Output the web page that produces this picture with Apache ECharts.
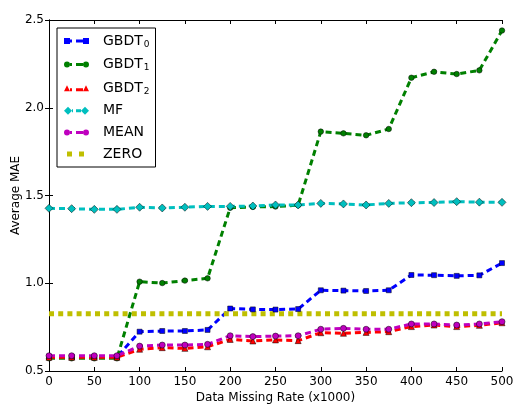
<!DOCTYPE html>
<html>
<head>
<meta charset="utf-8">
<script src="https://cdn.jsdelivr.net/npm/echarts@6/dist/echarts.min.js"></script>
<style>html,body{margin:0;padding:0;background:#fff;}#c{width:513px;height:406px;}</style>
</head>
<body>
<div id="c"></div>
<script>
const xValues = [0,25,50,75,100,125,150,175,200,225,250,275,300,325,350,375,400,425,450,475,500];
const gbdt0 = [0.580,0.580,0.580,0.580,0.724,0.728,0.728,0.734,0.856,0.851,0.850,0.853,0.960,0.958,0.956,0.960,1.047,1.046,1.042,1.045,1.115];
const gbdt1 = [0.572,0.572,0.572,0.572,1.009,1.001,1.015,1.028,1.430,1.435,1.437,1.445,1.864,1.854,1.843,1.879,2.171,2.205,2.192,2.213,2.440];
const gbdt2 = [0.578,0.578,0.578,0.578,0.624,0.633,0.629,0.638,0.680,0.671,0.677,0.673,0.718,0.715,0.720,0.724,0.753,0.762,0.753,0.760,0.775];
const mf    = [1.427,1.425,1.421,1.421,1.433,1.429,1.433,1.438,1.438,1.440,1.446,1.446,1.455,1.452,1.446,1.455,1.459,1.460,1.465,1.462,1.461];
const meanV = [0.587,0.587,0.587,0.587,0.642,0.648,0.648,0.652,0.701,0.696,0.699,0.701,0.738,0.743,0.738,0.738,0.768,0.768,0.762,0.768,0.781];
const zero  = [0.826,0.826,0.826,0.826,0.826,0.826,0.826,0.826,0.826,0.826,0.826,0.826,0.826,0.826,0.826,0.826,0.826,0.826,0.826,0.826,0.826];
const seriesNames = ['GBDT0','GBDT1','GBDT2','MF','MEAN','ZERO'];
const xTicks = {min:0, max:500, interval:50};
const yTicks = {min:0.5, max:2.5, interval:0.5};

const FONT = 'DejaVu Sans';
function pairs(arr){ return xValues.map((x,i)=>[x,arr[i]]); }

// legend icons (matplotlib style: marker - dash - marker), padded to 34 wide
const pad = (h)=>` M0 0 L0.05 0 L0.05 0.05Z M34 ${h} L33.95 ${h} L33.95 ${h-0.05}Z`;
const sq = (x)=>`M${x} 0 h6 v6 h-6Z`;
const circ = (x)=>`M${x} 3 A3 3 0 1 1 ${x+6} 3 A3 3 0 1 1 ${x} 3Z`;
const icons = {
  GBDT0: 'path://' + sq(0) + ' M6 1.5 h2 v3 h-2Z M12 1.5 h7 v3 h-7Z ' + sq(19) + pad(6),
  GBDT1: 'path://' + circ(0) + ' M6 1.5 h2 v3 h-2Z M12 1.5 h7 v3 h-7Z ' + circ(19) + pad(6),
  GBDT2: 'path://M3 0 L6 6 L0 6Z M6 3 h2 v3 h-2Z M12 3 h7 v3 h-7Z M22 0 L25 6 L19 6Z' + pad(6),
  MF:    'path://M4 0 L8 4 L4 8 L0 4Z M8 2.5 h1 v3 h-1Z M12 2.5 h5 v3 h-5Z M21 0 L25 4 L21 8 L17 4Z' + pad(8),
  MEAN:  'path://' + circ(0) + ' M6 1.5 h2 v3 h-2Z M12 1.5 h7 v3 h-7Z ' + circ(19) + pad(6),
  ZERO:  'path://M3 0 h5 v5 h-5Z M15 0 h5 v5 h-5Z' + pad(5)
};

const chart = echarts.init(document.getElementById('c'), null, {renderer:'canvas'});
const common = (name, data, color, symbol, size, dash, width) => ({
  name, type:'line', data: pairs(data), xAxisIndex:0, yAxisIndex:0,
  symbol, symbolSize: size, showSymbol: symbol !== 'none',
  itemStyle:{color, borderColor:'#000', borderWidth:0.5},
  lineStyle:{color, width, type: dash, cap:'butt'},
  emphasis:{disabled:true}, animation:false
});

const axisBase = {
  type:'value', splitLine:{show:false},
  axisLine:{show:true, lineStyle:{color:'#000', width:1}},
  axisTick:{show:true, inside:true, length:4, lineStyle:{color:'#000'}}
};

chart.setOption({
  animation:false,
  backgroundColor:'#fff',
  grid:{left:49, right:11, top:20, bottom:35, containLabel:false, outerBoundsMode:'none'},
  legend:{
    orient:'vertical', left:57, top:28,
    backgroundColor:'#fff', borderColor:'#000', borderWidth:1, borderRadius:0,
    padding:[5,6,6,7], itemGap:7.6, itemWidth:34, itemHeight:9,
    itemStyle:{borderWidth:0},
    data: seriesNames.map(n=>({name:n, icon:icons[n]})),
    formatter: function(name){
      const m = name.match(/^GBDT(\d)$/);
      return m ? '{m|GBDT}{s|'+m[1]+'}' : '{m|'+name+'}';
    },
    textStyle:{
      rich:{
        m:{fontFamily:FONT, fontSize:14, color:'#000', lineHeight:15},
        s:{fontFamily:FONT, fontSize:9, color:'#000', lineHeight:15, padding:[7,0,0,1]}
      }
    },
    selectedMode:false, z:10
  },
  xAxis:[
    Object.assign({}, axisBase, xTicks, {position:'bottom',
      name:'Data Missing Rate (x1000)', nameLocation:'middle', nameGap:21, nameMoveOverlap:false,
      nameTextStyle:{fontFamily:FONT, fontSize:12, color:'#000'},
      axisLabel:{fontFamily:FONT, fontSize:12, color:'#000', margin:5}}),
    Object.assign({}, axisBase, xTicks, {position:'top', axisLabel:{show:false}})
  ],
  yAxis:[
    Object.assign({}, axisBase, yTicks, {position:'left',
      name:'Average MAE', nameLocation:'middle', nameGap:27, nameRotate:90, nameMoveOverlap:false,
      nameTextStyle:{fontFamily:FONT, fontSize:12, color:'#000'},
      axisLabel:{fontFamily:FONT, fontSize:12, color:'#000', margin:5, formatter:v=>v.toFixed(1)}}),
    Object.assign({}, axisBase, yTicks, {position:'right', axisLabel:{show:false}})
  ],
  series:[
    common('GBDT0', gbdt0, '#0000ff', 'rect', 5, [6,4], 3),
    common('GBDT1', gbdt1, '#008000', 'circle', 5.5, [6,4], 3),
    common('GBDT2', gbdt2, '#ff0000', 'triangle', 6, [6,4], 3),
    common('MF', mf, '#00bfbf', 'diamond', 8, [6,4], 3),
    common('MEAN', meanV, '#bf00bf', 'circle', 6, [6,4], 3),
    common('ZERO', zero, '#bfbf00', 'none', 0, [5,4.2], 5)
  ]
});
</script>
</body>
</html>
